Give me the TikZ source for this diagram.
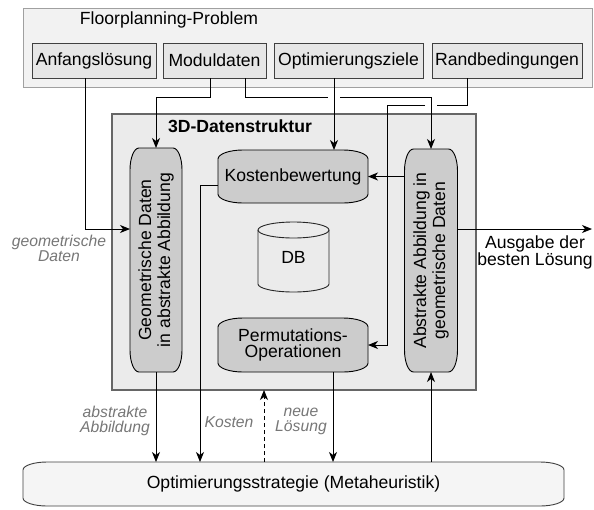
\documentclass[tikz,border=0pt]{standalone}
\usepackage{fontspec}
\setmainfont{Liberation Sans}
\usetikzlibrary{arrows.meta,calc}
\pgfdeclarelayer{back}
\pgfdeclarelayer{mid}
\pgfsetlayers{back,mid,main}
\definecolor{fpfill}{HTML}{F2F2F2}
\definecolor{fpline}{HTML}{A0A0A0}
\definecolor{subfill}{HTML}{E6E6E6}
\definecolor{subline}{HTML}{404040}
\definecolor{dsfill}{HTML}{EBEBEB}
\definecolor{dsline}{HTML}{666666}
\definecolor{darkfill}{HTML}{CCCCCC}
\definecolor{osfill}{HTML}{F5F5F5}
\definecolor{lblgray}{HTML}{777777}
\newcommand{\ellshape}[4]{%
  \path[#1] ([yshift=-#4]#2.north west)
    arc[start angle=180,end angle=90,x radius=#3,y radius=#4]
    -- ([xshift=-#3]#2.north east)
    arc[start angle=90,end angle=0,x radius=#3,y radius=#4]
    -- ([yshift=#4]#2.south east)
    arc[start angle=0,end angle=-90,x radius=#3,y radius=#4]
    -- ([xshift=#3]#2.south west)
    arc[start angle=270,end angle=180,x radius=#3,y radius=#4] -- cycle;}
\tikzset{
  box/.style={draw=none,fill=none,inner sep=0pt,outer sep=0pt,align=center},
  subbox/.style={draw=subline,fill=subfill,line width=0.9pt,inner sep=0pt,outer sep=0pt,minimum height=35pt},
  arr/.style={draw=black,line width=1pt,-{Stealth[length=10pt,width=8pt,inset=3pt]}},
  ln/.style={draw=black,line width=1pt},
  lbl/.style={font=\fontsize{15.7pt}{15pt}\selectfont\itshape,text=lblgray,align=center,inner sep=0pt},
  rottext/.style={rotate=90,align=center,inner sep=0pt,font=\fontsize{17.6pt}{19pt}\selectfont},
}
\begin{document}
\begin{tikzpicture}[x=1pt,y=-1pt,font=\fontsize{17.6pt}{17pt}\selectfont]
\useasboundingbox (0,0) rectangle (594,509);
% outer frames (named nodes)
\node[box,minimum width=569pt,minimum height=79pt] (fp) at (307.5,47.5) {};
\node[inner sep=0pt] (fpt) at (169,20) {Floorplanning-Problem};
\node[subbox,minimum width=124pt] (a1) at (94,60.5) {Anfangslösung};
\node[subbox,minimum width=103pt] (md) at (214.5,60.5) {Moduldaten};
\node[subbox,minimum width=149pt] (oz) at (348.5,60.5) {Optimierungsziele};
\node[subbox,minimum width=150pt] (rb) at (507,60.5) {Randbedingungen};
\node[box,minimum width=364pt,minimum height=276pt] (ds) at (294,252) {};
\node[inner sep=0pt,font=\fontsize{17.6pt}{17pt}\selectfont\bfseries] (dst) at (240,126) {3D-Datenstruktur};
\begin{pgfonlayer}{back}
  \path[fill=white] (0,0) rectangle (594,509);
  \path[fill=fpfill,draw=fpline,line width=1pt] (fp.north west) rectangle (fp.south east);
  \path[fill=dsfill,draw=dsline,line width=1.6pt] (ds.north west) rectangle (ds.south east);
\end{pgfonlayer}
% inner shapes
\node[box,minimum width=52pt,minimum height=224pt] (lp) at (156,260) {};
\node[rottext] (lpt) at (lp.center) {Geometrische Daten\\in abstrakte Abbildung};
\node[box,minimum width=53pt,minimum height=223pt] (rp) at (431,260.5) {};
\node[rottext] (rpt) at (rp.center) {Abstrakte Abbildung in\\geometrische Daten};
\node[box,minimum width=150pt,minimum height=53pt] (kb) at (293,176.5) {Kostenbewertung};
\node[box,minimum width=150pt,minimum height=54pt,font=\fontsize{17.6pt}{16pt}\selectfont] (pp) at (293,345) {Permutations-\\Operationen};
\node[box,minimum width=71pt,minimum height=70pt] (db) at (293.5,257) {DB};
\node[box,minimum width=541pt,minimum height=44pt] (os) at (293.5,484) {Optimierungsstrategie (Metaheuristik)};
\begin{pgfonlayer}{mid}
  \ellshape{fill=darkfill,draw=black,line width=0.9pt}{lp}{9pt}{22pt}
  \ellshape{fill=darkfill,draw=black,line width=0.9pt}{rp}{9pt}{22pt}
  \ellshape{fill=darkfill,draw=black,line width=0.9pt}{kb}{25pt}{9pt}
  \ellshape{fill=darkfill,draw=black,line width=0.9pt}{pp}{25pt}{9pt}
  \ellshape{fill=osfill,draw=subline,line width=0.9pt}{os}{24pt}{8pt}
  \path[fill=dsfill,draw=black!85,line width=0.9pt] ([yshift=-8pt]db.north west) -- ([yshift=8pt]db.south west)
     arc[start angle=180,end angle=360,x radius=35.5pt,y radius=8pt]
     -- ([yshift=-8pt]db.north east)
     arc[start angle=0,end angle=180,x radius=35.5pt,y radius=8pt] -- cycle;
  \draw[draw=black!85,line width=0.9pt] ([yshift=-8pt]db.north west)
     arc[start angle=180,end angle=360,x radius=35.5pt,y radius=8pt];
\end{pgfonlayer}
% connectors
\draw[arr] ([xshift=-9pt]a1.south) |- ([yshift=31pt]lp.west);
\draw[arr] ([xshift=-4.5pt]md.south) |- (156,97) -- (lp.north);
\draw[ln] ([xshift=30.5pt]md.south) |- (328,97);
\draw[arr] (340,97) -| (rp.north);
\draw[arr] ([xshift=-14.5pt]oz.south) -- ([xshift=41pt]kb.north);
\draw[ln] ([xshift=-40pt]rb.south) |- (437,105);
\draw[arr] (425,105) -| ([xshift=19pt]pp.east) -- (pp.east);
\draw[arr] (rp.west |- kb.east) -- (kb.east);
\draw[arr] ([yshift=-9pt]kb.west) -| ([xshift=-93.5pt]os.north);
\draw[arr] (lp.south) -- (lp.south |- os.north);
\path ([xshift=-29.5pt]os.north) coordinate (d1);
\draw[arr,dashed,dash pattern=on 4pt off 3pt] (d1) -- (d1 |- ds.south);
\path ([xshift=40pt]pp.south) coordinate (p1);
\draw[arr] (p1) -- (p1 |- os.north);
\draw[arr] (rp.south |- os.north) -- (rp.south);
\coordinate (out) at (592,229);
\draw[arr] ([yshift=31.5pt]rp.east) -- (out);
% labels
\node[lbl] (l1) at (59,248) {geometrische\\Daten};
\node[lbl] (l2) at (115,421) {abstrakte\\Abbildung};
\node[lbl] (l3) at (229,422) {Kosten};
\node[lbl] (l4) at (301,421) {neue\\Lösung};
\node[align=center,inner sep=0pt] (l5) at (535,252) {Ausgabe der\\besten Lösung};
\end{tikzpicture}
\end{document}
